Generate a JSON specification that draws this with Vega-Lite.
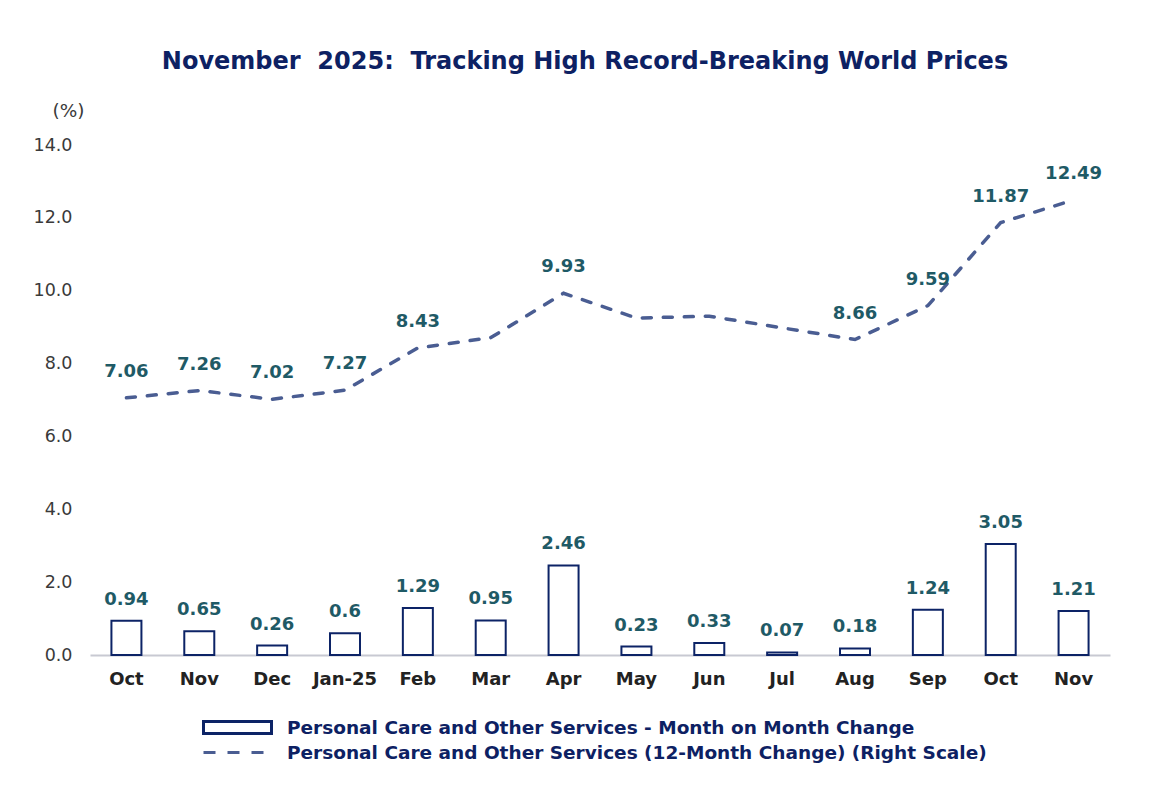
{
  "$schema": "https://vega.github.io/schema/vega-lite/v6.json",
  "width": 1020,
  "height": 510,
  "autosize": "none",
  "padding": {"left": 90, "top": 145, "right": 54, "bottom": 136},
  "background": "white",
  "title": {
    "text": "November\u00a0 2025:\u00a0 Tracking High Record-Breaking World Prices",
    "font": "DejaVu Sans",
    "fontSize": 24,
    "fontWeight": "bold",
    "color": "#0d2163",
    "anchor": "middle",
    "frame": "group",
    "baseline": "alphabetic",
    "dx": -15,
    "offset": 8
  },
  "config": {
    "view": {"stroke": null},
    "axis": {"grid": false, "ticks": false}
  },
  "data": {
    "values": [
      {"period": "Oct 2024", "mom": 0.94, "yoy": 7.06, "yoy_label": "7.06"},
      {"period": "Nov 2024", "mom": 0.65, "yoy": 7.26, "yoy_label": "7.26"},
      {"period": "Dec 2024", "mom": 0.26, "yoy": 7.02, "yoy_label": "7.02"},
      {"period": "Jan-25", "mom": 0.6, "yoy": 7.27, "yoy_label": "7.27"},
      {"period": "Feb 2025", "mom": 1.29, "yoy": 8.43, "yoy_label": "8.43"},
      {"period": "Mar 2025", "mom": 0.95, "yoy": 8.71, "yoy_label": null},
      {"period": "Apr 2025", "mom": 2.46, "yoy": 9.93, "yoy_label": "9.93"},
      {"period": "May 2025", "mom": 0.23, "yoy": 9.25, "yoy_label": null},
      {"period": "Jun 2025", "mom": 0.33, "yoy": 9.3, "yoy_label": null},
      {"period": "Jul 2025", "mom": 0.07, "yoy": 8.98, "yoy_label": null},
      {"period": "Aug 2025", "mom": 0.18, "yoy": 8.66, "yoy_label": "8.66"},
      {"period": "Sep 2025", "mom": 1.24, "yoy": 9.59, "yoy_label": "9.59"},
      {"period": "Oct 2025", "mom": 3.05, "yoy": 11.87, "yoy_label": "11.87"},
      {"period": "Nov 2025", "mom": 1.21, "yoy": 12.49, "yoy_label": "12.49"}
    ]
  },
  "encoding": {
    "x": {
      "field": "period",
      "type": "nominal",
      "sort": null,
      "scale": {"paddingInner": 0, "paddingOuter": 0},
      "axis": {
        "title": null,
        "labelAngle": 0,
        "labelExpr": "datum.value == 'Jan-25' ? 'Jan-25' : slice(datum.value, 0, 3)",
        "labelFont": "DejaVu Sans",
        "labelFontWeight": "bold",
        "labelFontSize": 18,
        "labelColor": "#222222",
        "labelPadding": 15,
        "domainColor": "#c8c9d2",
        "domainWidth": 2
      }
    }
  },
  "layer": [
    {
      "mark": {"type": "bar", "size": 30, "fill": "white", "stroke": "#0c2366", "strokeWidth": 2},
      "encoding": {
        "y": {
          "field": "mom",
          "type": "quantitative",
          "scale": {"domain": [0, 14], "nice": false},
          "axis": {
            "values": [0, 2, 4, 6, 8, 10, 12, 14],
            "format": ".1f",
            "domain": false,
            "labelFont": "DejaVu Sans",
            "labelFontSize": 17.5,
            "labelColor": "#3a3a3a",
            "labelPadding": 18,
            "title": "(%)",
            "titleAngle": 0,
            "titleFont": "DejaVu Sans",
            "titleFontSize": 18.5,
            "titleFontWeight": "normal",
            "titleColor": "#3a3a3a",
            "titleAlign": "center",
            "titleBaseline": "alphabetic",
            "titleX": -22,
            "titleY": -29
          }
        }
      }
    },
    {
      "mark": {"type": "text", "font": "DejaVu Sans", "fontWeight": "bold", "fontSize": 18, "color": "#1f5a66", "baseline": "alphabetic", "dy": -16},
      "encoding": {
        "y": {"field": "mom", "type": "quantitative"},
        "text": {"field": "mom", "type": "nominal"}
      }
    },
    {
      "mark": {"type": "line", "stroke": "#4a5d92", "strokeWidth": 3.5, "strokeDash": [9, 12], "strokeCap": "round"},
      "encoding": {
        "y": {"field": "yoy", "type": "quantitative"}
      }
    },
    {
      "transform": [{"filter": "isValid(datum.yoy_label)"}],
      "mark": {"type": "text", "font": "DejaVu Sans", "fontWeight": "bold", "fontSize": 18, "color": "#1f5a66", "baseline": "alphabetic", "dy": -21},
      "encoding": {
        "y": {"field": "yoy", "type": "quantitative"},
        "text": {"field": "yoy_label", "type": "nominal"}
      }
    },
    {
      "data": {"values": []},
      "mark": {"type": "point", "filled": false, "opacity": 1},
      "encoding": {
        "shape": {
          "field": "series",
          "type": "nominal",
          "scale": {
            "domain": ["Personal Care and Other Services - Month on Month Change", "Personal Care and Other Services (12-Month Change) (Right Scale)"],
            "range": ["M-1,-0.6H5.8V0.6H-1Z", "M-1,0H0.2M1.4,0H2.6M3.8,0H5"]
          },
          "legend": {
            "orient": "none",
            "legendX": 112,
            "legendY": 571,
            "direction": "vertical",
            "title": null,
            "symbolSize": 400,
            "symbolStrokeWidth": 3,
            "symbolOpacity": 1,
            "labelFont": "DejaVu Sans",
            "labelFontWeight": "bold",
            "labelFontSize": 18.5,
            "labelColor": "#0d2163",
            "labelLimit": 0,
            "labelOffset": 62,
            "rowPadding": 1,
            "padding": 0
          }
        },
        "stroke": {
          "field": "series",
          "type": "nominal",
          "scale": {
            "domain": ["Personal Care and Other Services - Month on Month Change", "Personal Care and Other Services (12-Month Change) (Right Scale)"],
            "range": ["#0c2366", "#4a5d92"]
          }
        },
        "fill": {
          "field": "series",
          "type": "nominal",
          "scale": {
            "domain": ["Personal Care and Other Services - Month on Month Change", "Personal Care and Other Services (12-Month Change) (Right Scale)"],
            "range": ["white", "transparent"]
          }
        }
      }
    }
  ]
}
